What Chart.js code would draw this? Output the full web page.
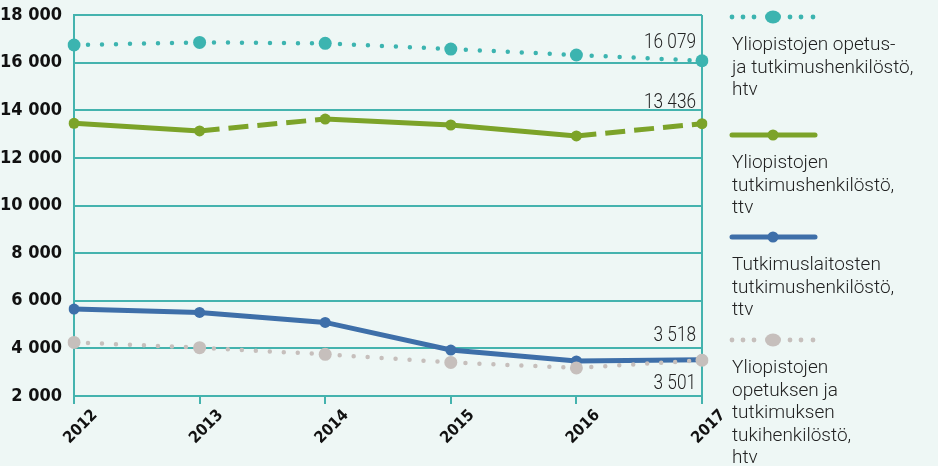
<!DOCTYPE html>
<html>
<head>
<meta charset="utf-8">
<script src="https://cdn.jsdelivr.net/npm/chart.js@4"></script>
<style>
  html, body { margin: 0; padding: 0; background: #eef7f5; }
  #wrap { width: 938px; height: 466px; position: relative; }
</style>
</head>
<body>
<div id="wrap"><canvas id="henkilostoChart" width="938" height="466"></canvas></div>
<script>
const years = ['2012', '2013', '2014', '2015', '2016', '2017'];
const opetusTutkimusHtv = [16740, 16850, 16810, 16570, 16320, 16079];
const yoTutkimusTtv = [13450, 13130, 13630, 13380, 12920, 13436];
const laitosTutkimusTtv = [5650, 5510, 5090, 3930, 3470, 3518];
const tukiHtv = [4250, 4030, 3750, 3410, 3180, 3501];
const yTicks = [2000, 4000, 6000, 8000, 10000, 12000, 14000, 16000, 18000];
const seriesNames = [
    ['Yliopistojen opetus-', 'ja tutkimushenkilöstö,', 'htv'],
    ['Yliopistojen', 'tutkimushenkilöstö,', 'ttv'],
    ['Tutkimuslaitosten', 'tutkimushenkilöstö,', 'ttv'],
    ['Yliopistojen', 'opetuksen ja', 'tutkimuksen', 'tukihenkilöstö,', 'htv']
];
// green series has estimated years drawn dashed (segment starting at these indexes)
const dashedFrom = [1, 4];

const TEAL = '#3cb4b0';
const GREEN = '#7ca329';
const BLUE = '#3e6fa9';
const GRAY = '#c6bfbc';
const GRID = '#44b3ae';

const fmt = v => String(v).replace(/\B(?=(\d{3})+(?!\d))/g, ' ');

const bgPlugin = {
    id: 'bg',
    beforeDraw(chart) {
        const c = chart.ctx;
        c.save();
        c.fillStyle = '#eef7f5';
        c.fillRect(0, 0, chart.width, chart.height);
        c.restore();
    }
};

// value labels next to the 2017 points
const endLabels = {
    id: 'endLabels',
    afterDatasetsDraw(chart) {
        const c = chart.ctx;
        const offsets = [-13, -16, -19, 29];
        c.save();
        c.font = '300 21px Roboto, sans-serif';
        c.fillStyle = '#222';
        c.textAlign = 'right';
        c.textBaseline = 'alphabetic';
        chart.data.datasets.forEach((ds, i) => {
            const meta = chart.getDatasetMeta(i);
            const last = meta.data[meta.data.length - 1];
            const x = chart.chartArea.right - 6;
            const y = last.y + offsets[i];
            c.save();
            c.translate(x, y);
            c.scale(0.82, 1);
            c.fillText(fmt(ds.data[ds.data.length - 1]), 0, 0);
            c.restore();
        });
        c.restore();
    }
};

const sideLegend = {
    id: 'sideLegend',
    afterDraw(chart) {
        const c = chart.ctx;
        const x0 = 732, x1 = 815, xm = 773;
        const sampleY = [17, 135, 237, 340];
        c.save();
        chart.data.datasets.forEach((ds, i) => {
            const y = sampleY[i];
            c.fillStyle = ds.borderColor;
            c.strokeStyle = ds.borderColor;
            if (ds.borderDash && ds.borderDash[0] === 0) {
                [x0, x0 + 11, x0 + 22, xm + 17, xm + 28, xm + 40].forEach(px => {
                    c.beginPath();
                    c.arc(px, y, 2.4, 0, Math.PI * 2);
                    c.fill();
                });
                c.beginPath();
                c.ellipse(xm, y, 8, 6.5, 0, 0, Math.PI * 2);
                c.fill();
            } else {
                c.lineWidth = 5;
                c.lineCap = 'round';
                c.beginPath();
                c.moveTo(x0, y);
                c.lineTo(x1, y);
                c.stroke();
                c.beginPath();
                c.arc(xm, y, 5.5, 0, Math.PI * 2);
                c.fill();
            }
            c.font = '300 19px Roboto, sans-serif';
            c.fillStyle = '#222';
            c.textAlign = 'left';
            c.textBaseline = 'alphabetic';
            seriesNames[i].forEach((line, k) => {
                c.fillText(line, x0, y + 33 + k * 22.5);
            });
        });
        c.restore();
    }
};

const ctx = document.getElementById('henkilostoChart').getContext('2d');

new Chart(ctx, {
    type: 'line',
    data: {
        labels: years,
        datasets: [
            {
                label: seriesNames[0].join(' '),
                data: opetusTutkimusHtv,
                borderColor: TEAL,
                backgroundColor: TEAL,
                borderWidth: 4.5,
                borderDash: [0, 14],
                borderCapStyle: 'round',
                pointRadius: 6.5,
                pointBorderWidth: 0
            },
            {
                label: seriesNames[1].join(' '),
                data: yoTutkimusTtv,
                borderColor: GREEN,
                backgroundColor: GREEN,
                borderWidth: 5,
                pointRadius: 5.5,
                pointBorderWidth: 0,
                segment: {
                    borderDash: s => dashedFrom.includes(s.p0DataIndex) ? [20, 9] : undefined
                }
            },
            {
                label: seriesNames[2].join(' '),
                data: laitosTutkimusTtv,
                borderColor: BLUE,
                backgroundColor: BLUE,
                borderWidth: 5,
                pointRadius: 5.5,
                pointBorderWidth: 0
            },
            {
                label: seriesNames[3].join(' '),
                data: tukiHtv,
                order: -1,
                borderColor: GRAY,
                backgroundColor: GRAY,
                borderWidth: 4.5,
                borderDash: [0, 14],
                borderCapStyle: 'round',
                pointRadius: 6.5,
                pointBorderWidth: 0
            }
        ]
    },
    options: {
        responsive: false,
        animation: false,
        events: [],
        layout: {
            padding: { top: 15, right: 236, left: 0, bottom: 0 }
        },
        scales: {
            x: {
                offset: false,
                afterFit: s => { s.height = 70; },
                border: { color: GRID, width: 2 },
                grid: {
                    color: c => (c.index === 0 || c.index === years.length - 1) ? GRID : 'transparent',
                    tickColor: GRID,
                    lineWidth: 2,
                    tickLength: 8
                },
                ticks: {
                    minRotation: 45,
                    maxRotation: 45,
                    labelOffset: 21,
                    padding: 2,
                    color: '#111',
                    font: { family: "'Liberation Sans Narrow', 'DejaVu Sans Condensed', sans-serif", weight: 'bold', size: 16 }
                }
            },
            y: {
                min: 2000,
                max: 18000,
                afterFit: s => { s.width = 74; s.paddingTop = 0; s.paddingBottom = 0; },
                afterBuildTicks: s => { s.ticks = yTicks.map(v => ({ value: v })); },
                border: { color: GRID, width: 2 },
                grid: {
                    color: GRID,
                    lineWidth: 2,
                    drawTicks: false
                },
                ticks: {
                    padding: 12,
                    color: '#111',
                    font: { family: "'Liberation Sans Narrow', 'DejaVu Sans Condensed', sans-serif", weight: 'bold', size: 18 },
                    callback: v => fmt(v)
                }
            }
        },
        plugins: {
            legend: { display: false },
            tooltip: { enabled: false }
        }
    },
    plugins: [bgPlugin, endLabels, sideLegend]
});
</script>
</body>
</html>
